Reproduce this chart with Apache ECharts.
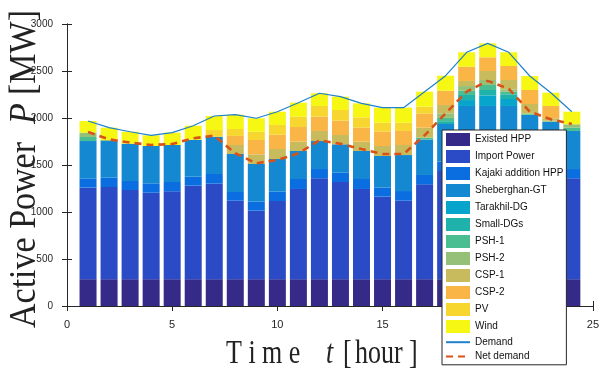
<!DOCTYPE html>
<html>
<head>
<meta charset="utf-8">
<script src="https://cdn.jsdelivr.net/npm/echarts@6/dist/echarts.min.js"></script>
<style>
  html, body { margin: 0; padding: 0; background: #fff; }
  #chart { width: 602px; height: 376px; }
</style>
</head>
<body>
<div id="chart"></div>
<script>
// hourly generation mix (MW)
const hours = [1, 2, 3, 4, 5, 6, 7, 8, 9, 10, 11, 12, 13, 14, 15, 16, 17, 18, 19, 20, 21, 22, 23, 24];
const hourSlots = ['0', '1', '2', '3', '4', '5', '6', '7', '8', '9', '10', '11', '12', '13', '14', '15', '16', '17', '18', '19', '20', '21', '22', '23', '24', '25'];
const existedHpp = [285, 285, 285, 285, 285, 285, 285, 285, 285, 285, 285, 285, 285, 285, 285, 285, 285, 285, 285, 285, 285, 285, 285, 285];
const importPower = [974, 981, 949, 920, 935, 995, 1016, 835, 729, 832, 960, 1073, 1034, 960, 878, 835, 1009, 1151, 1343, 1343, 1343, 1247, 1176, 1073];
const kajaki = [99, 99, 96, 100, 99, 96, 103, 93, 96, 99, 106, 99, 99, 106, 96, 103, 100, 100, 100, 100, 100, 100, 100, 99];
const sheberghan = [397, 390, 397, 397, 394, 393, 397, 404, 401, 348, 298, 298, 302, 298, 337, 383, 377, 400, 400, 400, 400, 400, 400, 405];
const tarakhil = [0, 0, 0, 0, 0, 0, 0, 0, 0, 0, 0, 0, 0, 0, 0, 0, 0, 0, 63, 112, 74, 0, 0, 0];
const smallDgs = [0, 0, 0, 0, 0, 0, 0, 0, 0, 0, 0, 0, 0, 0, 0, 0, 0, 30, 54, 58, 50, 0, 0, 0];
const psh1 = [43, 0, 0, 0, 0, 0, 0, 0, 0, 0, 0, 0, 0, 0, 0, 0, 20, 35, 45, 53, 28, 8, 0, 35];
const psh2 = [46, 12, 0, 0, 0, 0, 0, 0, 0, 0, 0, 0, 0, 0, 0, 0, 0, 49, 50, 53, 25, 10, 10, 36];
const csp1 = [0, 0, 0, 0, 0, 0, 0, 96, 103, 106, 99, 107, 99, 99, 106, 107, 106, 88, 54, 96, 99, 99, 26, 0];
const csp2 = [0, 0, 0, 0, 0, 0, 0, 96, 152, 152, 156, 152, 153, 149, 153, 149, 149, 152, 152, 146, 149, 149, 131, 0];
const pv = [0, 0, 0, 0, 0, 0, 71, 74, 88, 104, 110, 114, 113, 110, 95, 88, 75, 0, 0, 0, 0, 0, 0, 0];
const wind = [124, 130, 127, 114, 131, 149, 149, 152, 143, 141, 149, 135, 142, 149, 160, 160, 159, 160, 153, 148, 146, 149, 141, 134];
const demand = [1968, 1897, 1854, 1816, 1844, 1918, 2021, 2035, 1997, 2067, 2163, 2263, 2227, 2156, 2110, 2110, 2280, 2450, 2699, 2794, 2699, 2447, 2269, 2067];
const netDemand = [1851, 1773, 1738, 1713, 1723, 1784, 1812, 1625, 1518, 1553, 1624, 1762, 1725, 1670, 1617, 1617, 1815, 2050, 2280, 2395, 2310, 2067, 1986, 1936];

const layers = [
  ['Existed HPP', existedHpp, '#352A87'],
  ['Import Power', importPower, '#2B4AC6'],
  ['Kajaki addition HPP', kajaki, '#0A6EE0'],
  ['Sheberghan-GT', sheberghan, '#1489D2'],
  ['Tarakhil-DG', tarakhil, '#07A5CC'],
  ['Small-DGs', smallDgs, '#1EB2AA'],
  ['PSH-1', psh1, '#4ABE90'],
  ['PSH-2', psh2, '#94C077'],
  ['CSP-1', csp1, '#C8BB5E'],
  ['CSP-2', csp2, '#F9B646'],
  ['PV', pv, '#F7D630'],
  ['Wind', wind, '#F6F713'],
];

const axisColor = '#262626';
const sans = '"Liberation Sans", Arial, sans-serif';
const serif = '"Liberation Serif", "Times New Roman", serif';

const chart = echarts.init(document.getElementById('chart'), null, { renderer: 'canvas' });

// bars sit on a hidden category axis with one slot per hour 0..25
const slots = (arr) => ['-'].concat(arr, ['-']);
const pairs = (arr) => hours.map((h, i) => [h, arr[i]]);

const series = layers.map(([name, data, color]) => ({
  name,
  type: 'bar',
  stack: 'gen',
  xAxisIndex: 2,
  barWidth: 17,
  itemStyle: { color },
  data: slots(data),
}));

series.push({
  name: 'Demand',
  type: 'line',
  symbol: 'none',
  z: 5,
  lineStyle: { color: '#1F80CC', width: 1.2 },
  itemStyle: { color: '#1F80CC' },
  data: pairs(demand),
});
series.push({
  name: 'Net demand',
  type: 'line',
  symbol: 'none',
  z: 6,
  lineStyle: { color: '#D95319', width: 2.6, type: [7, 5] },
  itemStyle: { color: '#D95319' },
  data: pairs(netDemand),
});

const tickCommon = { show: true, inside: true, length: 5, lineStyle: { color: axisColor } };

const option = {
  animation: false,
  backgroundColor: '#fff',
  grid: { left: 67, right: 7, top: 24, bottom: 70 },
  legend: {
    orient: 'vertical',
    left: 442,
    top: 130,
    itemWidth: 24,
    itemHeight: 13,
    itemGap: 4,
    padding: [3, 3, 3, 3],
    backgroundColor: '#fff',
    borderColor: axisColor,
    borderWidth: 1,
    borderRadius: 0,
    textStyle: { fontFamily: sans, fontSize: 10, color: '#111' },
    data: layers.map(([name]) => ({ name, icon: 'rect' })).concat([
      { name: 'Demand', itemStyle: { opacity: 0 } },
      { name: 'Net demand', itemStyle: { opacity: 0 } },
    ]),
  },
  xAxis: [
    {
      type: 'value',
      min: 0,
      max: 25,
      interval: 5,
      axisLine: { show: true, lineStyle: { color: axisColor } },
      axisTick: tickCommon,
      splitLine: { show: false },
      axisLabel: { fontFamily: sans, fontSize: 11, color: axisColor, margin: 13 },
    },
    {
      type: 'value',
      position: 'top',
      min: 0,
      max: 25,
      interval: 5,
      axisLine: { show: true, lineStyle: { color: axisColor } },
      axisTick: tickCommon,
      splitLine: { show: false },
      axisLabel: { show: false },
    },
    {
      type: 'category',
      data: hourSlots,
      boundaryGap: false,
      show: false,
    },
  ],
  yAxis: [
    {
      type: 'value',
      min: 0,
      max: 3000,
      interval: 500,
      axisLine: { show: true, lineStyle: { color: axisColor } },
      axisTick: tickCommon,
      splitLine: { show: false },
      axisLabel: { fontFamily: sans, fontSize: 10, color: axisColor, margin: 14, formatter: (v) => String(v) },
    },
    {
      type: 'value',
      position: 'right',
      min: 0,
      max: 3000,
      interval: 500,
      axisLine: { show: true, lineStyle: { color: axisColor } },
      axisTick: tickCommon,
      splitLine: { show: false },
      axisLabel: { show: false },
    },
  ],
  graphic: [
    // y-axis title, reads bottom to top
    { type: 'text', x: 25, y: 328, rotation: Math.PI / 2, scaleX: 0.85, scaleY: 0.95,
      style: { text: 'Active Power', font: '40px ' + serif, fill: '#222', textAlign: 'left', textVerticalAlign: 'middle' } },
    { type: 'text', x: 25, y: 124, rotation: Math.PI / 2, scaleX: 0.85, scaleY: 0.95,
      style: { text: 'P', font: 'italic 40px ' + serif, fill: '#222', textAlign: 'left', textVerticalAlign: 'middle' } },
    { type: 'text', x: 25, y: 95, rotation: Math.PI / 2, scaleX: 0.85, scaleY: 0.95,
      style: { text: '[MW]', font: '40px ' + serif, fill: '#222', textAlign: 'left', textVerticalAlign: 'middle' } },
    // x-axis title
    { type: 'text', x: 226, y: 354, scaleY: 1.27,
      style: { text: 'T i m e', font: '26px ' + serif, fill: '#222', textAlign: 'left', textVerticalAlign: 'middle' } },
    { type: 'text', x: 326, y: 354, scaleY: 1.27,
      style: { text: 't', font: 'italic 26px ' + serif, fill: '#222', textAlign: 'left', textVerticalAlign: 'middle' } },
    { type: 'text', x: 343, y: 354, scaleY: 1.27,
      style: { text: '[', font: '26px ' + serif, fill: '#222', textAlign: 'left', textVerticalAlign: 'middle' } },
    { type: 'text', x: 355, y: 354, scaleY: 1.27,
      style: { text: 'hour', font: '26px ' + serif, fill: '#222', textAlign: 'left', textVerticalAlign: 'middle' } },
    { type: 'text', x: 409, y: 354, scaleY: 1.27,
      style: { text: ']', font: '26px ' + serif, fill: '#222', textAlign: 'left', textVerticalAlign: 'middle' } },
  ],
  series,
};

chart.setOption(option);
</script>
</body>
</html>
